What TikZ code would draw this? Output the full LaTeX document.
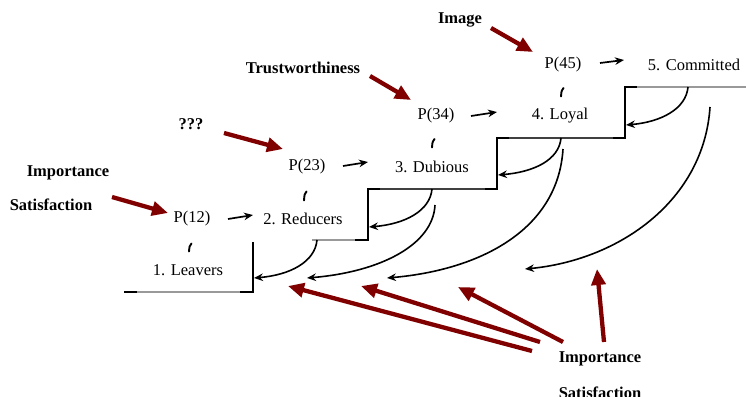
\documentclass[tikz,border=0pt]{standalone}
\usepackage{fontspec}
\setmainfont{Liberation Serif}
\usetikzlibrary{arrows.meta}
\definecolor{driver}{RGB}{128,0,0}
\tikzset{
  lbl/.style={font=\fontsize{16.5}{18}\selectfont, inner sep=0pt},
  factor/.style={font=\fontsize{16.5}{18}\selectfont\bfseries, inner sep=0pt},
  stepline/.style={line width=1.3pt, black},
  stepfaint/.style={line width=1.2pt, black!40},
  stepmid/.style={line width=1.2pt, black!75},
  move/.style={line width=1.7pt, -{Stealth[length=9pt,width=7.5pt]}},
  back/.style={line width=1.6pt, -{Stealth[length=9pt,width=7.5pt]}},
  push/.style={line width=4.3pt, driver, -{Triangle[length=16pt,width=14pt]}},
  tick/.style={line width=1.9pt, line cap=round}
}
\begin{document}
\begin{tikzpicture}[x=1pt, y=-1pt]
\useasboundingbox (0,0) rectangle (746,396);

% staircase of loyalty levels: treads with dark ends
\draw[stepfaint] (137,292) -- (240,292);
\draw[stepfaint] (312,240) -- (355,240);
\draw[stepmid] (380,189) -- (485,189);
\draw[stepmid] (509,138) -- (613,138);
\draw[stepfaint] (637,87) -- (746,87);
\draw[stepline] (124,292) -- (137,292);
\draw[stepline] (240,292) -- (253,292) -- (253,242);
\draw[stepline] (355,240) -- (368,240) -- (368,189) -- (380,189);
\draw[stepline] (485,189) -- (497,189) -- (497,138) -- (509,138);
\draw[stepline] (613,138) -- (625,138) -- (625,87) -- (637,87);

% states and transition probabilities
\node[lbl] (s1) at (188,270) {1. Leavers};
\node[lbl] (p12) at (192,219) {P(12)};
\node[lbl] (s2) at (303,219) {2. Reducers};
\node[lbl] (p23) at (307,167) {P(23)};
\node[lbl] (s3) at (432,167) {3. Dubious};
\node[lbl] (p34) at (436,116) {P(34)};
\node[lbl] (s4) at (560,116) {4. Loyal};
\node[lbl] (p45) at (563,65) {P(45)};
\node[lbl] (s5) at (694,65) {5. Committed};

% forward moves
\coordinate (a1s) at (228,219); \coordinate (a1e) at (253,215);
\coordinate (a2s) at (343,166); \coordinate (a2e) at (368,162);
\coordinate (a3s) at (471,116); \coordinate (a3e) at (497,112);
\coordinate (a4s) at (600,63);  \coordinate (a4e) at (624,60);
\draw[move] (a1s) -- (a1e);
\draw[move] (a2s) -- (a2e);
\draw[move] (a3s) -- (a3e);
\draw[move] (a4s) -- (a4e);

% small marks under the probabilities
\draw[tick] (191.5,243.5) .. controls (189.5,246) .. (189,251.5);
\draw[tick] (306.5,191.5) .. controls (304.5,194) .. (304,200.5);
\draw[tick] (434.5,139) .. controls (432.5,141.5) .. (432,147.5);
\draw[tick] (563.5,88) .. controls (561.5,90.5) .. (561,96.5);

% falling back to lower levels
\coordinate (c1s) at (317,240); \coordinate (c1e) at (254,278);
\coordinate (c2s) at (432,189); \coordinate (c2e) at (369,227);
\coordinate (c3s) at (435,205); \coordinate (c3e) at (307,278);
\coordinate (c4s) at (561,138); \coordinate (c4e) at (498,175);
\coordinate (c5s) at (563,149); \coordinate (c5e) at (387,278);
\coordinate (c6s) at (688,87);  \coordinate (c6e) at (626,125);
\coordinate (c7s) at (710,107); \coordinate (c7e) at (525,269);
\draw[back] (c1s) .. controls (315,262) and (290,275) .. (c1e);
\draw[back] (c2s) .. controls (430,211) and (405,224) .. (c2e);
\draw[back] (c3s) .. controls (433,245) and (380,272) .. (c3e);
\draw[back] (c4s) .. controls (559,160) and (534,172) .. (c4e);
\draw[back] (c5s) .. controls (558,230) and (480,270) .. (c5e);
\draw[back] (c6s) .. controls (686,109) and (661,122) .. (c6e);
\draw[back] (c7s) .. controls (704,200) and (620,260) .. (c7e);

% driving factors
\node[factor] (f1a) at (68,173) {Importance};
\node[factor] (f1b) at (51,205) {Satisfaction};
\node[factor] (f2) at (191,124) {???};
\node[factor] (f3) at (303,68) {Trustworthiness};
\node[factor] (f4) at (460,20) {Image};
\node[factor] (f5a) at (600,359) {Importance};
\node[factor] (f5b) at (600,393) {Satisfaction};

\coordinate (r1s) at (112,197); \coordinate (r1e) at (168,213);
\coordinate (r2s) at (224,133); \coordinate (r2e) at (283,149);
\coordinate (r3s) at (370,76);  \coordinate (r3e) at (411,100);
\coordinate (r4s) at (491,28);  \coordinate (r4e) at (533,52);
\coordinate (r5s) at (532,351); \coordinate (r5e) at (288,286);
\coordinate (r6s) at (540,342); \coordinate (r6e) at (361,286);
\coordinate (r7s) at (563,342); \coordinate (r7e) at (458,287);
\coordinate (r8s) at (604,342); \coordinate (r8e) at (597,269);
\draw[push] (r1s) -- (r1e);
\draw[push] (r2s) -- (r2e);
\draw[push] (r3s) -- (r3e);
\draw[push] (r4s) -- (r4e);
\draw[push] (r5s) -- (r5e);
\draw[push] (r6s) -- (r6e);
\draw[push] (r7s) -- (r7e);
\draw[push] (r8s) -- (r8e);
\end{tikzpicture}
\end{document}
